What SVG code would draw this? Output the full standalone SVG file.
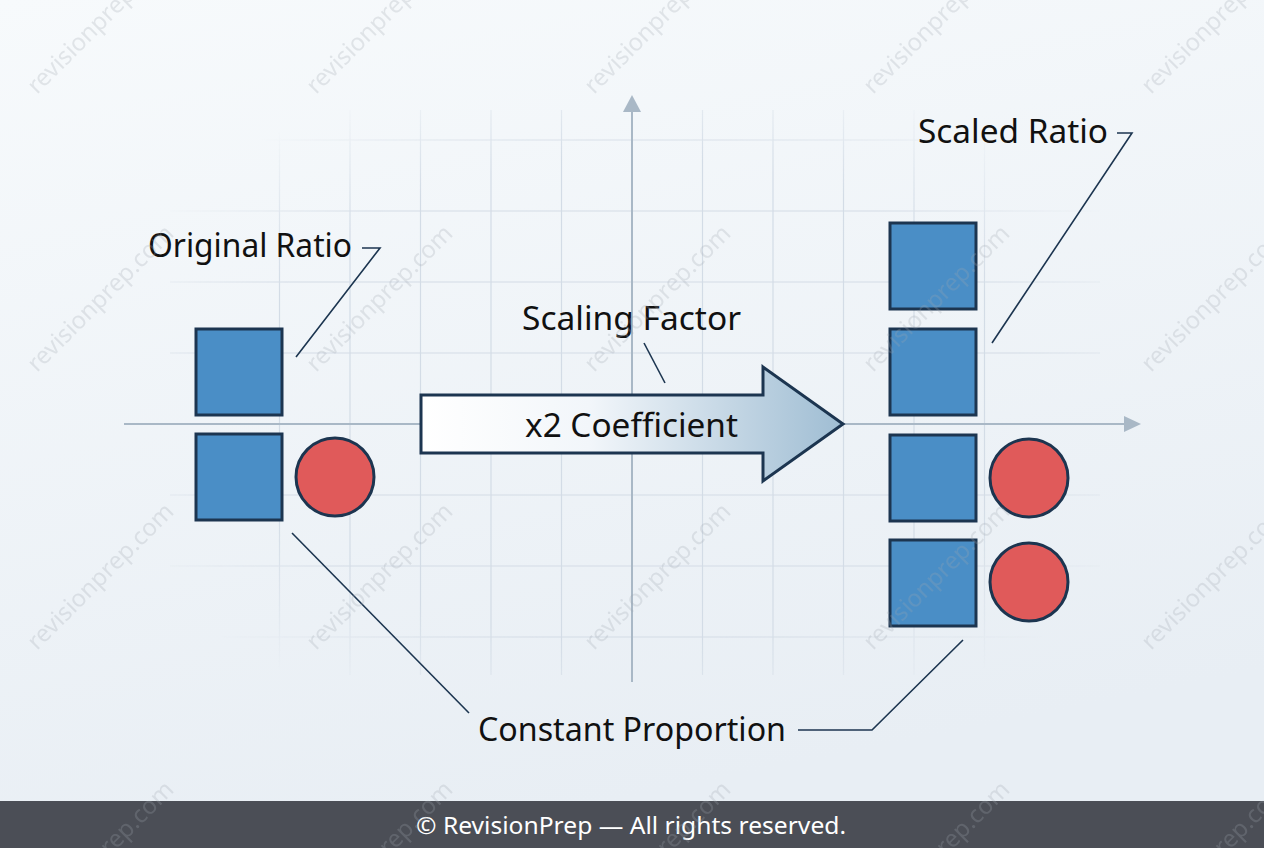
<svg xmlns="http://www.w3.org/2000/svg" width="1264" height="848" viewBox="0 0 1264 848">
<defs>
<linearGradient id="bg" x1="0" y1="0" x2="0.3" y2="1">
<stop offset="0" stop-color="#f7fafc"/>
<stop offset="1" stop-color="#e8eef4"/>
</linearGradient>
<linearGradient id="arrowFill" x1="421" y1="0" x2="843" y2="0" gradientUnits="userSpaceOnUse">
<stop offset="0" stop-color="#ffffff"/>
<stop offset="0.4" stop-color="#f2f6fa"/>
<stop offset="1" stop-color="#9fbdd3"/>
</linearGradient>
<radialGradient id="gridFade" cx="632" cy="400" r="560" gradientUnits="userSpaceOnUse" gradientTransform="translate(632 400) scale(1 0.62) translate(-632 -400)">
<stop offset="0" stop-color="#fff"/>
<stop offset="0.7" stop-color="#fff"/>
<stop offset="1" stop-color="#000"/>
</radialGradient>
<mask id="gridMask"><rect width="1264" height="848" fill="url(#gridFade)"/></mask>
<style>
.grid line{stroke:#d3dce6;stroke-width:1.2}
.axis{stroke:#a9b8c6;stroke-width:2;fill:none}
.axhead{fill:#a9b8c6}
.sq{fill:#4a8ec6;stroke:#1c3550;stroke-width:3}
.ci{fill:#e05a5a;stroke:#1c3550;stroke-width:3}
.lbl{font-family:"Noto Sans","Open Sans",sans-serif;font-size:32px;fill:#111}
.lead{stroke:#1c3550;stroke-width:1.6;fill:none}
.wm{font-family:"Noto Sans","Open Sans",sans-serif;font-size:24px;fill:#a0a7b0;opacity:0.25}
.foot{font-family:"Noto Sans","Open Sans",sans-serif;font-size:24px;fill:#ffffff}
</style>
</defs>
<rect width="1264" height="848" fill="url(#bg)"/>
<g class="grid" mask="url(#gridMask)">
<line x1="279.5" y1="110" x2="279.5" y2="675"/>
<line x1="350" y1="110" x2="350" y2="675"/>
<line x1="420.5" y1="110" x2="420.5" y2="675"/>
<line x1="491" y1="110" x2="491" y2="675"/>
<line x1="561.5" y1="110" x2="561.5" y2="675"/>
<line x1="702.5" y1="110" x2="702.5" y2="675"/>
<line x1="773" y1="110" x2="773" y2="675"/>
<line x1="843.5" y1="110" x2="843.5" y2="675"/>
<line x1="914" y1="110" x2="914" y2="675"/>
<line x1="984.5" y1="110" x2="984.5" y2="675"/>
<line x1="170" y1="140" x2="1100" y2="140"/>
<line x1="170" y1="211" x2="1100" y2="211"/>
<line x1="170" y1="282" x2="1100" y2="282"/>
<line x1="170" y1="353" x2="1100" y2="353"/>
<line x1="170" y1="495" x2="1100" y2="495"/>
<line x1="170" y1="566" x2="1100" y2="566"/>
<line x1="170" y1="637" x2="1100" y2="637"/>
</g>
<g id="axes">
<line class="axis" x1="124" y1="424" x2="1126" y2="424"/>
<polygon class="axhead" points="1124,416 1141,424 1124,432"/>
<line class="axis" x1="632" y1="682" x2="632" y2="110"/>
<polygon class="axhead" points="623,112 632,95 641,112"/>
</g>
<g id="connectors">
<polyline class="lead" points="362,248 380,248 296,357"/>
<polyline class="lead" points="1117,133 1132,133 992,343"/>
<line class="lead" x1="644" y1="343" x2="665" y2="383"/>
<line class="lead" x1="292" y1="533" x2="469" y2="713"/>
<polyline class="lead" points="798,730 872,730 963,640"/>
</g>
<g id="original">
<rect class="sq" x="196" y="329" width="86" height="86"/>
<rect class="sq" x="196" y="434" width="86" height="86"/>
<circle class="ci" cx="335" cy="477" r="39"/>
</g>
<g id="scaled">
<rect class="sq" x="890" y="223" width="86" height="86"/>
<rect class="sq" x="890" y="329" width="86" height="86"/>
<rect class="sq" x="890" y="435" width="86" height="86"/>
<rect class="sq" x="890" y="540" width="86" height="86"/>
<circle class="ci" cx="1029" cy="478" r="39"/>
<circle class="ci" cx="1029" cy="582" r="39"/>
</g>
<g id="scaling-arrow">
<polygon points="421,395 763,395 763,367 843,424 763,481 763,453 421,453" fill="url(#arrowFill)" stroke="#1c3550" stroke-width="3" stroke-linejoin="miter"/>
<text class="lbl" x="525" y="437" textLength="213" lengthAdjust="spacingAndGlyphs">x2 Coefficient</text>
</g>
<g id="label-original"><text class="lbl" x="148" y="257" textLength="204" lengthAdjust="spacingAndGlyphs">Original Ratio</text></g>
<g id="label-scaled"><text class="lbl" x="918" y="143" textLength="190" lengthAdjust="spacingAndGlyphs">Scaled Ratio</text></g>
<g id="label-factor"><text class="lbl" x="522" y="330" textLength="219" lengthAdjust="spacingAndGlyphs">Scaling Factor</text></g>
<g id="label-constant"><text class="lbl" x="478" y="741" textLength="308" lengthAdjust="spacingAndGlyphs">Constant Proportion</text></g>
<g id="footer">
<rect x="0" y="801" width="1264" height="47" fill="#4b4e56"/>
<text class="foot" x="416" y="834" textLength="430" lengthAdjust="spacingAndGlyphs">© RevisionPrep — All rights reserved.</text>
</g>
<g id="watermarks">
<text class="wm" transform="translate(106 26) rotate(-45)" text-anchor="middle">revisionprep.com</text>
<text class="wm" transform="translate(385 26) rotate(-45)" text-anchor="middle">revisionprep.com</text>
<text class="wm" transform="translate(663 26) rotate(-45)" text-anchor="middle">revisionprep.com</text>
<text class="wm" transform="translate(942 26) rotate(-45)" text-anchor="middle">revisionprep.com</text>
<text class="wm" transform="translate(1220 26) rotate(-45)" text-anchor="middle">revisionprep.com</text>
<text class="wm" transform="translate(106 304) rotate(-45)" text-anchor="middle">revisionprep.com</text>
<text class="wm" transform="translate(385 304) rotate(-45)" text-anchor="middle">revisionprep.com</text>
<text class="wm" transform="translate(663 304) rotate(-45)" text-anchor="middle">revisionprep.com</text>
<text class="wm" transform="translate(942 304) rotate(-45)" text-anchor="middle">revisionprep.com</text>
<text class="wm" transform="translate(1220 304) rotate(-45)" text-anchor="middle">revisionprep.com</text>
<text class="wm" transform="translate(106 582) rotate(-45)" text-anchor="middle">revisionprep.com</text>
<text class="wm" transform="translate(385 582) rotate(-45)" text-anchor="middle">revisionprep.com</text>
<text class="wm" transform="translate(663 582) rotate(-45)" text-anchor="middle">revisionprep.com</text>
<text class="wm" transform="translate(942 582) rotate(-45)" text-anchor="middle">revisionprep.com</text>
<text class="wm" transform="translate(1220 582) rotate(-45)" text-anchor="middle">revisionprep.com</text>
<text class="wm" transform="translate(106 860) rotate(-45)" text-anchor="middle">revisionprep.com</text>
<text class="wm" transform="translate(385 860) rotate(-45)" text-anchor="middle">revisionprep.com</text>
<text class="wm" transform="translate(663 860) rotate(-45)" text-anchor="middle">revisionprep.com</text>
<text class="wm" transform="translate(942 860) rotate(-45)" text-anchor="middle">revisionprep.com</text>
<text class="wm" transform="translate(1220 860) rotate(-45)" text-anchor="middle">revisionprep.com</text>
</g>
</svg>
